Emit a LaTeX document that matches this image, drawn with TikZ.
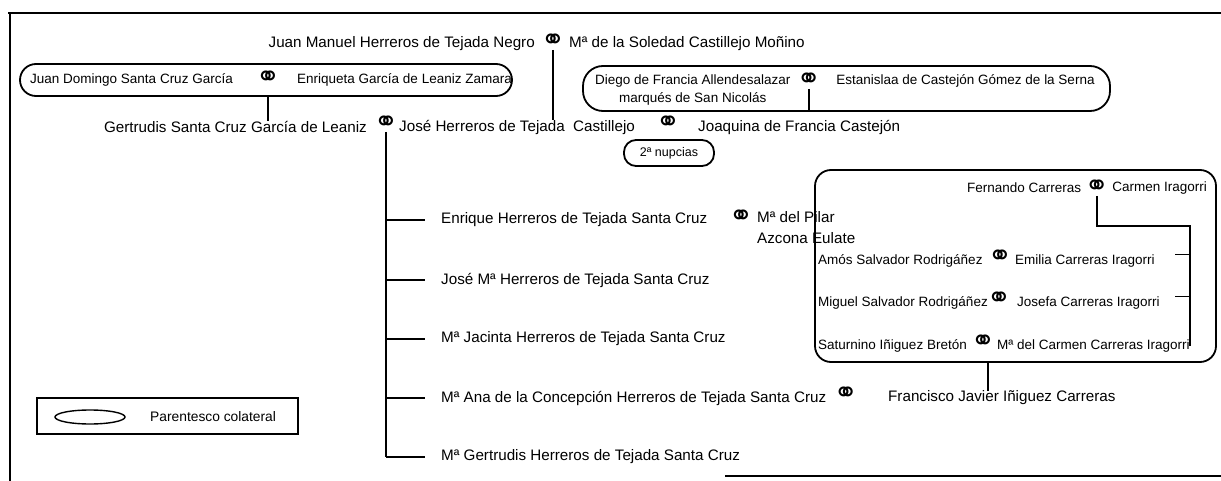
\documentclass[tikz,border=0pt]{standalone}
\usepackage{fontspec}
\setmainfont{Liberation Sans}
\newfontfamily\ringfont{DejaVu Sans}
\usetikzlibrary{positioning,shapes.geometric}
\newcommand{\wed}{⚭}
\tikzset{
  person/.style={font=\fontsize{15.2}{18}\selectfont, inner sep=0pt},
  small/.style={font=\fontsize{13.5}{16}\selectfont, inner sep=0pt},
  ring/.style={font=\ringfont\bfseries\fontsize{29}{29}\selectfont, inner sep=0pt},
  line/.style={line width=1.6pt},
  kin/.style={draw, line width=1.8pt, rounded corners=#1, inner sep=0pt},
  kin/.default=16pt
}
\begin{document}
\begin{tikzpicture}[x=1pt,y=-1pt]
			\useasboundingbox (0,0) rectangle (1221,481);
			\draw[line] (8,13) -- (1221,13);
			\draw[line] (10,13) -- (10,481);
			\draw[line] (725,476) -- (1221,476);
			% generation 0
			\node[ring] (r0) at (553,42) {\wed};
			\node[person, anchor=east] (jmh) at (535,44) {Juan Manuel Herreros de Tejada Negro};
			\node[person, anchor=west] (msc) at (569,44) {Mª de la Soledad Castillejo Moñino};
			\node[kin, minimum width=492pt, minimum height=32pt] (ovalL) at (266,80) {};
			\node[ring] (r1) at (268,79) {\wed};
			\node[small, anchor=east] (jdsc) at (233,80) {Juan Domingo Santa Cruz García};
			\node[small, anchor=west] (egl) at (297,80) {Enriqueta García de Leaniz Zamara};
			\node[kin=20pt, minimum width=527pt, minimum height=45pt] (ovalR) at (846.5,88.5) {};
			\node[small, anchor=west] (dfa) at (595,81) {Diego de Francia Allendesalazar};
			\node[ring, right=6pt of dfa] (r2) {\wed};
			\node[small, below=5pt of dfa] (msn) {marqués de San Nicolás};
			\node[small, right=15pt of r2] (ecg) {Estanislaa de Castejón Gómez de la Serna};
			% generation 1
			\node[ring] (r3) at (386,124) {\wed};
			\node[person, anchor=east] (gscl) at (367,127) {Gertrudis Santa Cruz García de Leaniz};
			\node[person, anchor=west] (jhtc) at (399,127) {José Herreros de Tejada\ \ Castillejo};
			\node[ring] (r4) at (668,124) {\wed};
			\node[person, anchor=west] (jfc) at (698,127) {Joaquina de Francia Castejón};
			\node[kin=12pt, minimum width=90pt, minimum height=26pt] (nup) at (669,153) {};
			\node[small, font=\fontsize{12.5}{14}\selectfont] at (nup) {2ª nupcias};
			\draw[line] (r0.south) -- (r0.south |- jhtc.north);
			\draw[line] (r1 |- ovalL.south) -- (r1 |- gscl.north);
			\draw[line] (r2.south) -- (r2 |- ovalR.south);
			% children
			\node[person, anchor=west] (c1) at (441,220) {Enrique Herreros de Tejada Santa Cruz};
			\node[person, anchor=west] (c2) at (441,280) {José Mª Herreros de Tejada Santa Cruz};
			\node[person, anchor=west] (c3) at (441,339) {Mª Jacinta Herreros de Tejada Santa Cruz};
			\node[person, anchor=west] (c4) at (441,398) {Mª Ana de la Concepción Herreros de Tejada Santa Cruz};
			\node[person, anchor=west] (c5) at (441,457) {Mª Gertrudis Herreros de Tejada Santa Cruz};
			\draw[line] (r3.south) -- (r3 |- c5.west);
			\foreach \c in {c1,c2,c3,c4,c5}
				\draw[line] (r3 |- \c.west) -- ([xshift=-16pt]\c.west);
			\node[ring] (r5) at (741,218) {\wed};
			\node[person, anchor=north west, align=left, font=\fontsize{15.2}{21}\selectfont] (mpa) at (757,211) {Mª del Pilar\\Azcona Eulate};
			\node[ring, right=7pt of c4, yshift=3pt] (r6) {\wed};
			\node[person, anchor=west] (fjic) at (888,398) {Francisco Javier Iñiguez Carreras};
			% Carreras family
			\node[kin, minimum width=401pt, minimum height=192pt] (boxC) at (1015.5,266) {};
			\node[small, anchor=east] (cir) at (1207,188) {Carmen Iragorri};
			\node[ring, left=3pt of cir] (r7) {\wed};
			\node[small, left=3pt of r7] (fca) {Fernando Carreras};
			\node[small, anchor=west] (asr) at (818,261) {Amós Salvador Rodrigáñez};
			\node[ring] (r8) at (1000,258) {\wed};
			\node[small, anchor=west] (eci) at (1015,261) {Emilia Carreras Iragorri};
			\node[small, anchor=west] (msr) at (818,303) {Miguel Salvador Rodrigáñez};
			\node[ring] (r9) at (999,300) {\wed};
			\node[small, anchor=west] (jci) at (1017,303) {Josefa Carreras Iragorri};
			\node[small, anchor=west] (sib) at (818,346) {Saturnino Iñiguez Bretón};
			\node[ring] (r10) at (983,343) {\wed};
			\node[small, anchor=west] (mcci) at (997,346) {Mª del Carmen Carreras Iragorri};
			\coordinate (bend) at (1190,226);
			\draw[line] (r7.south) -- (r7 |- bend) -- (bend) -- (bend |- mcci.center);
			\draw[line] (bend |- eci.north) -- ++(-15,0);
			\draw[line] (bend |- jci.north) -- ++(-15,0);
			\draw[line] (988,0 |- boxC.south) -- (988,0 |- fjic.north);
			% legend
			\node[draw, line width=2pt, minimum width=261pt, minimum height=36pt, inner sep=0pt] (legend) at (167.5,416) {};
			\node[draw, ellipse, line width=1.4pt, minimum width=70pt, minimum height=14pt, inner sep=0pt] (lgov) at (90,417) {};
			\node[person, font=\fontsize{13.8}{16}\selectfont, anchor=west] (lgtx) at (150,417) {Parentesco colateral};
		\end{tikzpicture}
\end{document}
